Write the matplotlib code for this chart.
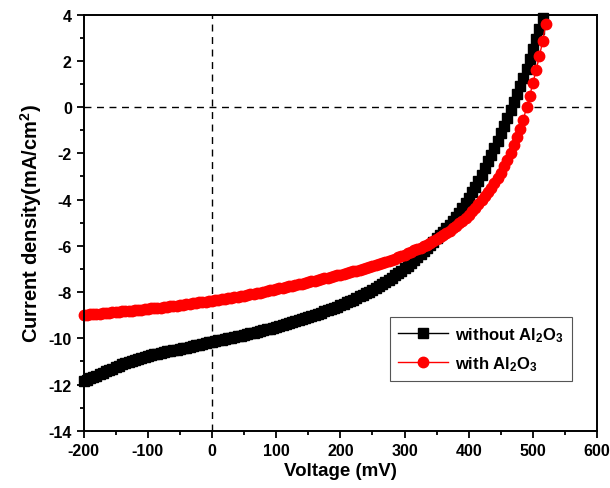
import matplotlib
matplotlib.use('Agg')
import matplotlib.pyplot as plt
from matplotlib.ticker import MultipleLocator
import numpy as np

plt.rcParams['font.family'] = ['Liberation Sans', 'DejaVu Sans']
plt.rcParams['font.weight'] = 'bold'
plt.rcParams['axes.unicode_minus'] = False
plt.rcParams['mathtext.fontset'] = 'custom'
plt.rcParams['mathtext.rm'] = 'Liberation Sans:bold'
plt.rcParams['mathtext.bf'] = 'Liberation Sans:bold'
plt.rcParams['mathtext.default'] = 'bf'

# J-V sweep, 5 mV steps
v_without = np.arange(-200, 516, 5)
j_without = [
    -11.85, -11.79, -11.73, -11.67, -11.61, -11.55, -11.49, -11.43, -11.37, -11.31,
    -11.25, -11.19, -11.13, -11.07, -11.02, -10.97, -10.92, -10.88, -10.84, -10.80,
    -10.76, -10.73, -10.70, -10.66, -10.63, -10.60, -10.57, -10.54, -10.52, -10.49,
    -10.46, -10.43, -10.40, -10.37, -10.34, -10.31, -10.28, -10.25, -10.22, -10.18,
    -10.15, -10.12, -10.09, -10.06, -10.03, -10.00, -9.97, -9.94, -9.91, -9.88,
    -9.85, -9.82, -9.78, -9.75, -9.72, -9.68, -9.65, -9.61, -9.58, -9.54,
    -9.50, -9.46, -9.42, -9.38, -9.34, -9.30, -9.26, -9.22, -9.17, -9.13,
    -9.08, -9.03, -8.99, -8.94, -8.89, -8.84, -8.79, -8.74, -8.68, -8.63,
    -8.57, -8.51, -8.45, -8.39, -8.33, -8.26, -8.19, -8.12, -8.05, -7.98,
    -7.90, -7.82, -7.73, -7.64, -7.55, -7.46, -7.37, -7.28, -7.18, -7.08,
    -6.98, -6.86, -6.73, -6.61, -6.48, -6.35, -6.22, -6.09, -5.95, -5.82,
    -5.68, -5.54, -5.39, -5.24, -5.08, -4.92, -4.75, -4.57, -4.38, -4.16,
    -3.92, -3.68, -3.44, -3.20, -2.92, -2.64, -2.35, -2.07, -1.77, -1.45,
    -1.13, -0.80, -0.47, -0.13, 0.21, 0.55, 0.90, 1.27, 1.67, 2.07,
    2.50, 2.95, 3.40, 3.85,
]

v_with = np.arange(-200, 521, 5)
j_with = [
    -9.00, -8.99, -8.97, -8.96, -8.94, -8.93, -8.91, -8.90, -8.89, -8.87,
    -8.86, -8.85, -8.83, -8.82, -8.81, -8.80, -8.78, -8.77, -8.76, -8.74,
    -8.73, -8.71, -8.70, -8.68, -8.67, -8.65, -8.64, -8.62, -8.60, -8.59,
    -8.57, -8.55, -8.53, -8.51, -8.49, -8.47, -8.45, -8.43, -8.41, -8.39,
    -8.37, -8.35, -8.33, -8.31, -8.29, -8.27, -8.24, -8.22, -8.20, -8.17,
    -8.15, -8.12, -8.10, -8.07, -8.04, -8.02, -7.99, -7.96, -7.93, -7.90,
    -7.87, -7.84, -7.81, -7.78, -7.75, -7.72, -7.69, -7.66, -7.63, -7.59,
    -7.56, -7.53, -7.50, -7.47, -7.44, -7.41, -7.38, -7.35, -7.32, -7.28,
    -7.25, -7.21, -7.18, -7.14, -7.11, -7.07, -7.03, -7.00, -6.96, -6.92,
    -6.88, -6.84, -6.79, -6.75, -6.70, -6.65, -6.60, -6.55, -6.49, -6.44,
    -6.38, -6.32, -6.26, -6.20, -6.14, -6.08, -6.02, -5.95, -5.88, -5.80,
    -5.72, -5.63, -5.54, -5.45, -5.35, -5.25, -5.14, -5.03, -4.91, -4.78,
    -4.65, -4.50, -4.35, -4.19, -4.02, -3.85, -3.67, -3.48, -3.28, -3.07,
    -2.85, -2.56, -2.27, -1.97, -1.65, -1.31, -0.95, -0.55, 0.00, 0.50,
    1.05, 1.62, 2.20, 2.85, 3.60,
]

fig = plt.figure(figsize=(6.1, 4.89), dpi=100)
ax = fig.add_axes([0.137, 0.117, 0.842, 0.851])

ax.axvline(0, color='black', lw=1, ls=(0, (5, 4)))
ax.axhline(0, color='black', lw=1, ls=(0, (5, 4)))

ax.plot(v_without, j_without, color='black', lw=1, marker='s', ms=6.5,
        label=r'without Al$_2$O$_3$', clip_on=False)
ax.plot(v_with, j_with, color='red', lw=1, marker='o', ms=7.5,
        label=r'with Al$_2$O$_3$', clip_on=False)

ax.set_xlim(-200, 600)
ax.set_ylim(-14, 4)
ax.xaxis.set_major_locator(MultipleLocator(100))
ax.xaxis.set_minor_locator(MultipleLocator(50))
ax.yaxis.set_major_locator(MultipleLocator(2))
ax.yaxis.set_minor_locator(MultipleLocator(1))
ax.tick_params(which='major', direction='out', length=5, width=1.3,
               labelsize=11.5, top=False, right=False)
ax.tick_params(which='minor', direction='out', length=3, width=1.3,
               top=False, right=False)
for s in ax.spines.values():
    s.set_linewidth(1.4)

ax.set_xlabel('Voltage (mV)', fontsize=13.5, fontweight='bold', labelpad=3)
ax.set_ylabel(r'Current density(mA/cm$^2$)', fontsize=14.5, fontweight='bold', labelpad=3)

leg = ax.legend(loc='lower right', bbox_to_anchor=(0.951, 0.12), borderaxespad=0,
                fontsize=12, fancybox=False, edgecolor='#555555', handlelength=3,
                borderpad=0.5, labelspacing=0.6, handletextpad=0.4, framealpha=1)
leg.get_frame().set_linewidth(0.8)

fig.savefig('out.png', dpi=100)
